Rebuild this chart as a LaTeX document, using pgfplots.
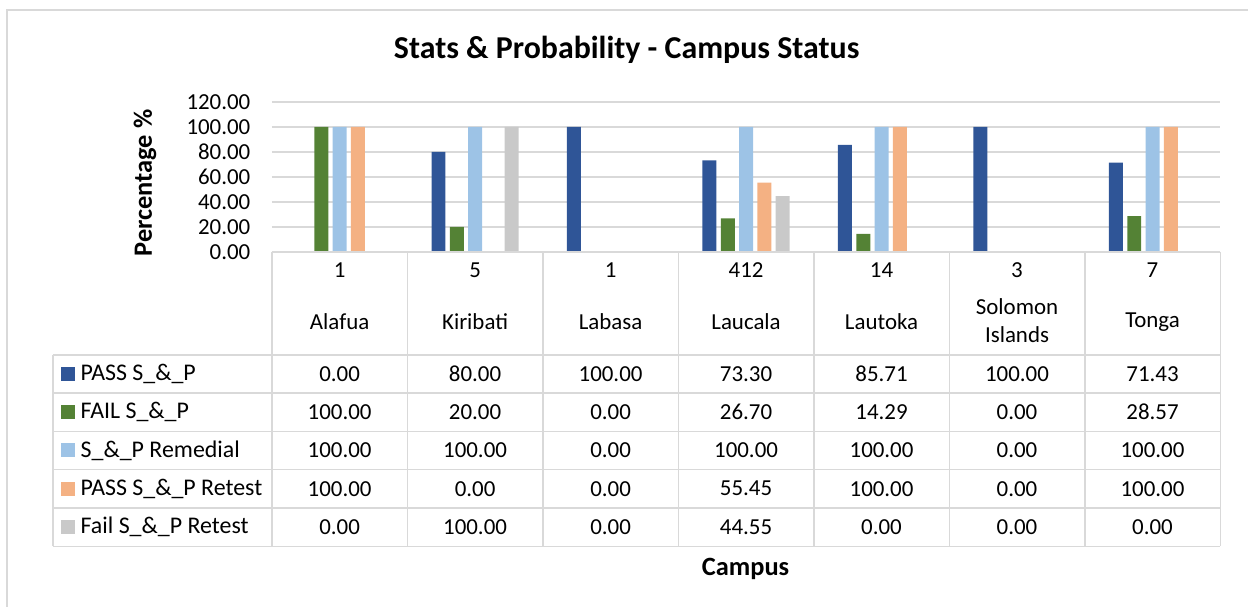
\documentclass[border=0pt]{standalone}
\usepackage{fontspec}
\setmainfont{Carlito}
\usepackage{pgfplots}
\usepackage{pgfplotstable}
\pgfplotsset{compat=1.18}

\definecolor{cpass}{HTML}{2F5597}
\definecolor{cfail}{HTML}{548235}
\definecolor{crem}{HTML}{9DC3E6}
\definecolor{cpret}{HTML}{F4B183}
\definecolor{cfret}{HTML}{C9C9C9}
\definecolor{gridgray}{HTML}{D9D9D9}

% campus, students, then percentages per series
\pgfplotstableread{
idx n pass fail rem pret fret
0 1 0 100 100 100 0
1 5 80 20 100 0 100
2 1 100 0 0 0 0
3 412 73.30 26.70 100 55.45 44.55
4 14 85.71 14.29 100 100 0
5 3 100 0 0 0 0
6 7 71.43 28.57 100 100 0
}\datatable

\newcommand{\tfont}{\fontsize{23}{27}\selectfont}

\begin{document}
\begin{tikzpicture}[x=1bp,y=1bp]
% page frame
\path (0,0) rectangle (1249,607);
\draw[gridgray, line width=1.5bp] (7,0) -- (7,597) -- (1249,597);

\node[font=\fontsize{32}{36}\selectfont\bfseries] at (627,557) {Stats \& Probability - Campus Status};
\node[font=\fontsize{26.5}{30}\selectfont\bfseries, rotate=90] at (145,424) {Percentage \%};
\node[font=\fontsize{26.5}{30}\selectfont\bfseries] at (746,38) {Campus};

\begin{axis}[
    at={(272bp,355bp)}, anchor=south west,
    scale only axis,
    width=949bp, height=150bp,
    xmin=-0.5, xmax=6.5,
    ymin=0, ymax=120,
    ytick={0,20,...,120},
    xtick=\empty,
    axis line style={draw=none},
    major tick length=0pt,
    ymajorgrids,
    grid style={draw=gridgray, line width=1.5bp},
    ybar=4.3bp, bar width=14bp,
    yticklabel style={
        font=\tfont, xshift=-18bp,
        /pgf/number format/.cd, fixed, fixed zerofill, precision=2,
        assume math mode=true
    },
    clip=false,
]
\addplot[fill=cpass, draw=none] table[x=idx, y=pass] {\datatable};
\addplot[fill=cfail, draw=none] table[x=idx, y=fail] {\datatable};
\addplot[fill=crem, draw=none] table[x=idx, y=rem] {\datatable};
\addplot[fill=cpret, draw=none] table[x=idx, y=pret] {\datatable};
\addplot[fill=cfret, draw=none] table[x=idx, y=fret] {\datatable};
\end{axis}

% data table
\def\cw{135.571}
\foreach \k in {0,...,7} {
  \draw[gridgray, line width=1.5bp] (272+\k*\cw,355) -- (272+\k*\cw,60.3);
}
\draw[gridgray, line width=1.5bp] (272,355) -- (1221,355);
\draw[gridgray, line width=1.5bp] (53,252) -- (53,60.3);
\foreach \yy in {252,213.7,175.3,137,98.7,60.3} {
  \draw[gridgray, line width=1.5bp] (53,\yy) -- (1221,\yy);
}

% header: students and campus names
\foreach \name [count=\i from 0] in {Alafua,Kiribati,Labasa,Laucala,Lautoka,{},Tonga} {
  \pgfplotstablegetelem{\i}{n}\of\datatable
  \node[font=\tfont] at (272+\cw/2+\i*\cw,337) {\pgfplotsretval};
  \node[font=\tfont] at (272+\cw/2+\i*\cw,285) {\name};
}
\node[font=\tfont] at (272+\cw/2+5*\cw,300.5) {Solomon};
\node[font=\tfont] at (272+\cw/2+5*\cw,272) {Islands};

% rows
\foreach \col/\lab/\clr [count=\r from 0] in {
    pass/PASS S\_\&\_P/cpass,
    fail/FAIL S\_\&\_P/cfail,
    rem/S\_\&\_P Remedial/crem,
    pret/PASS S\_\&\_P Retest/cpret,
    fret/Fail S\_\&\_P Retest/cfret} {
  \pgfmathsetmacro{\yc}{233-\r*38.33}
  \fill[\clr] (61,\yc-7) rectangle (75,\yc+7);
  \node[font=\fontsize{24}{28}\selectfont, anchor=west, inner sep=0pt] at (80.5,\yc) {\lab};
  \foreach \i in {0,...,6} {
    \pgfplotstablegetelem{\i}{\col}\of\datatable
    \node[font=\tfont] at (272+\cw/2+\i*\cw,\yc)
      {\pgfmathprintnumber[fixed,fixed zerofill,precision=2,assume math mode=true]{\pgfplotsretval}};
  }
}
\end{tikzpicture}
\end{document}
